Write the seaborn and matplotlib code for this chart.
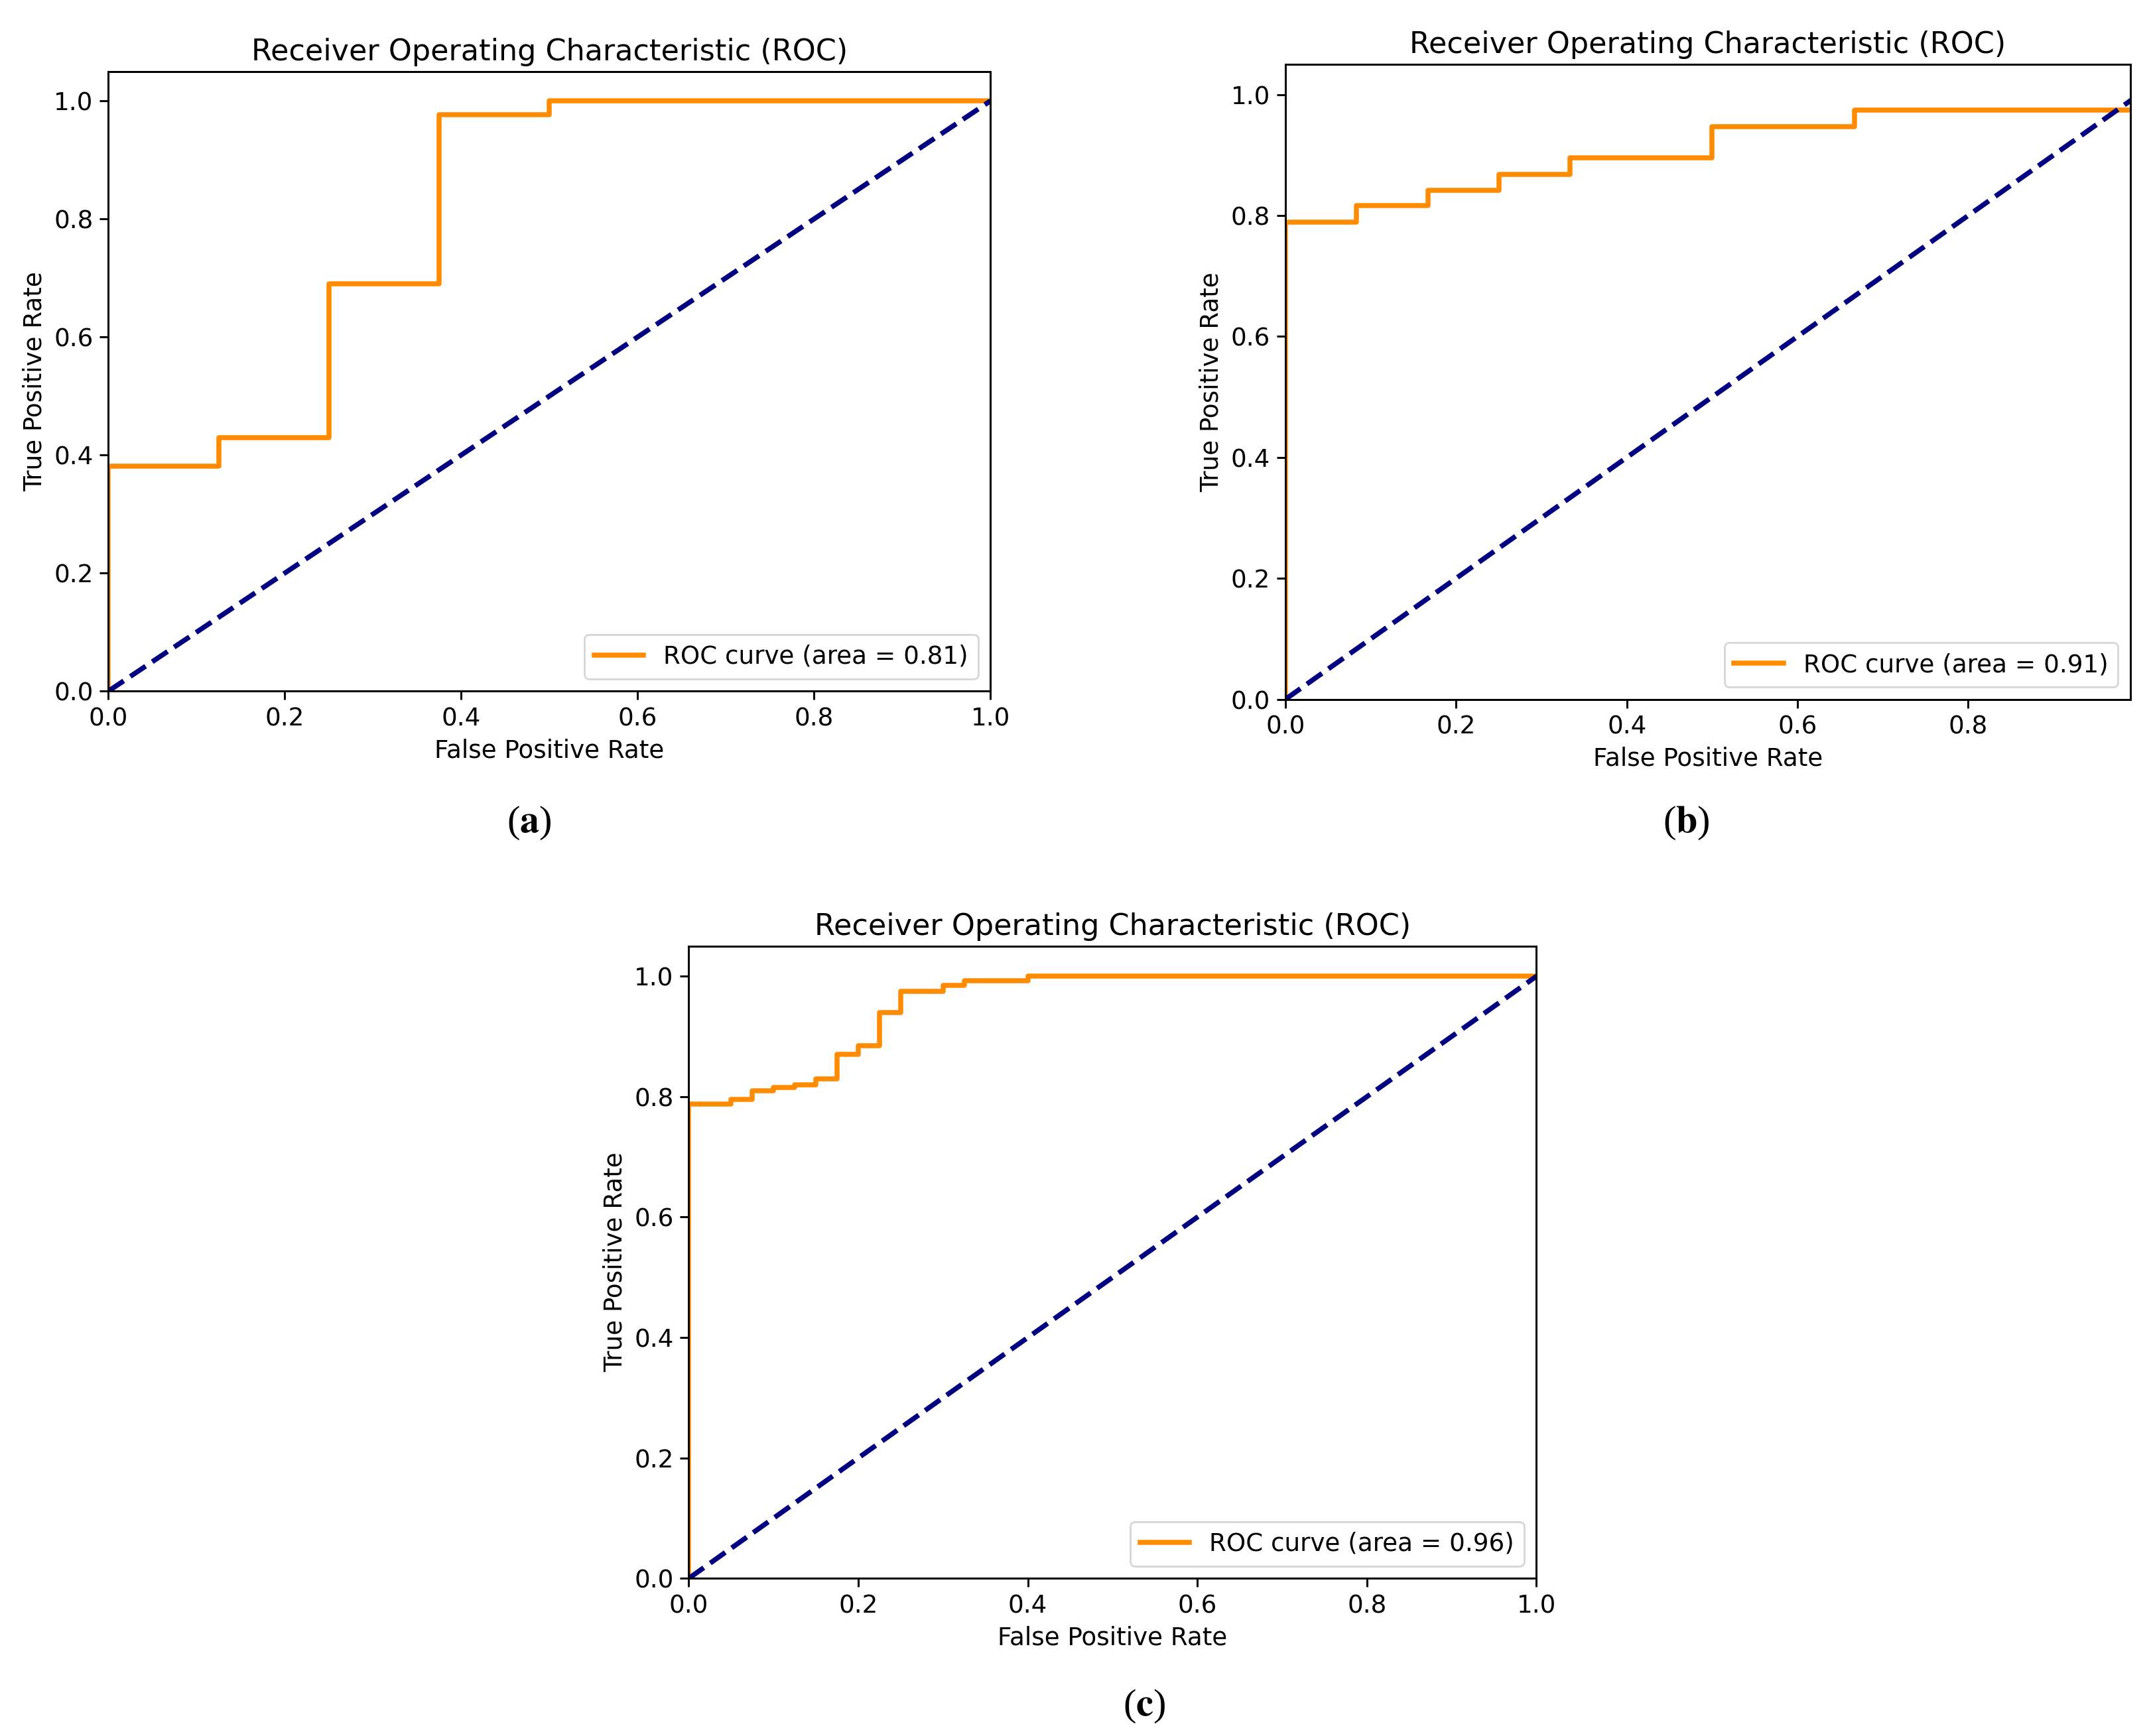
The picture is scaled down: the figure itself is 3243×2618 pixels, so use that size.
import matplotlib
matplotlib.use("Agg")
import matplotlib.pyplot as plt
import seaborn as sns

# ROC points (steps-post)
fpr_a = [0.0, 0.0, 0.125, 0.25, 0.375, 0.5, 1.0]
tpr_a = [0.0, 0.381, 0.429, 0.690, 0.976, 1.0, 1.0]
auc_a = 0.81

fpr_b = [0.0, 0.0, 0.0833, 0.1667, 0.25, 0.3333, 0.5, 0.6667, 1.0]
tpr_b = [0.0, 0.789, 0.816, 0.842, 0.868, 0.895, 0.947, 0.974, 1.0]
auc_b = 0.91

fpr_c = [0.0, 0.0, 0.05, 0.075, 0.1, 0.125, 0.15, 0.175, 0.2, 0.225, 0.25, 0.3, 0.325, 0.4, 1.0]
tpr_c = [0.0, 0.788, 0.795, 0.81, 0.815, 0.82, 0.83, 0.87, 0.885, 0.94, 0.975, 0.985, 0.993, 1.0, 1.0]
auc_c = 0.96

panel_labels = ["a", "b", "c"]

fig = plt.figure(figsize=(16.215, 13.09), dpi=200)
plt.rcParams["mathtext.fontset"] = "stix"

# axes boxes [left, bottom, width, height] in figure fractions
boxes = [
    [0.0504, 0.6019, 0.4101, 0.3570],
    [0.5976, 0.5972, 0.3928, 0.3657],
    [0.3202, 0.0908, 0.3941, 0.3642],
]
data = [(fpr_a, tpr_a, auc_a), (fpr_b, tpr_b, auc_b), (fpr_c, tpr_c, auc_c)]
xmax = [1.0, 0.99, 1.0]
label_pos = [(0.246, 0.526), (0.784, 0.526), (0.532, 0.017)]

for i, box in enumerate(boxes):
    ax = fig.add_axes(box)
    fpr, tpr, auc = data[i]
    sns.lineplot(x=fpr, y=tpr, ax=ax, color="darkorange", lw=2.7,
                 drawstyle="steps-post", estimator=None, sort=False,
                 label="ROC curve (area = %0.2f)" % auc)
    sns.lineplot(x=[0, 1], y=[0, 1], ax=ax, color="navy", lw=2.7,
                 linestyle="--", estimator=None, sort=False)
    ax.set_xlim(0.0, xmax[i])
    ax.set_ylim(0.0, 1.05)
    ax.set_xlabel("False Positive Rate", fontsize=13.4)
    ax.set_ylabel("True Positive Rate", fontsize=13.4)
    ax.set_title("Receiver Operating Characteristic (ROC)", fontsize=16)
    ax.tick_params(labelsize=13.4, width=1.07, length=4.7)
    for s in ax.spines.values():
        s.set_linewidth(1.07)
    ax.legend(loc="lower right", fontsize=13.4)
    fig.text(label_pos[i][0], label_pos[i][1], "($\\mathbf{%s}$)" % panel_labels[i],
             family="Liberation Serif", fontsize=21, ha="center", va="center")

fig.savefig("out.png", dpi=200, facecolor="white")
